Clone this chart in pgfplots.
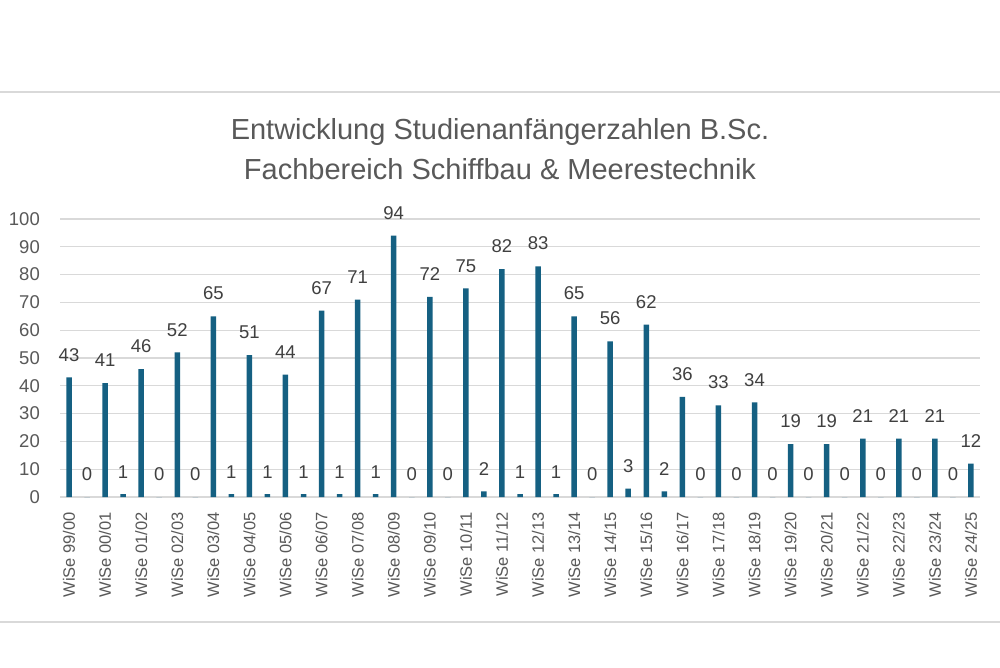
\documentclass[border=0pt]{standalone}
\usepackage{pgfplots}
\pgfplotsset{compat=1.18}
\usepackage{fontspec}
\setmainfont{Liberation Sans}
\definecolor{barblue}{HTML}{156082}
\definecolor{txtgray}{HTML}{595959}
\definecolor{lblgray}{HTML}{404040}
\definecolor{gridgray}{HTML}{D9D9D9}
\begin{document}
\begin{tikzpicture}
\path[use as bounding box, fill=white] (0pt,0pt) rectangle (1000pt,667pt);
\draw[gridgray, line width=1.5pt] (0pt,575pt) -- (1000pt,575pt);
\draw[gridgray, line width=1.5pt] (0pt,45pt) -- (1000pt,45pt);
\node[anchor=base, text=txtgray, font=\fontsize{29}{34}\selectfont, inner sep=0pt] at (500pt,527pt) {Entwicklung Studienanfängerzahlen B.Sc.};
\node[anchor=base, text=txtgray, font=\fontsize{29}{34}\selectfont, inner sep=0pt] at (500pt,487pt) {Fachbereich Schiffbau \& Meerestechnik};
\begin{axis}[
  at={(60pt,170pt)}, anchor=south west,
  scale only axis, width=920pt, height=278pt,
  xmin=-0.5, xmax=50.5, ymin=0, ymax=100,
  ybar, bar width=5.5pt,
  axis line style={draw=none},
  major tick length=0pt,
  ytick={0,10,...,100},
  ymajorgrids, grid style={gridgray, line width=1.2pt},
  xtick={0,2,...,50},
  xticklabels={WiSe 99/00,WiSe 00/01,WiSe 01/02,WiSe 02/03,WiSe 03/04,WiSe 04/05,WiSe 05/06,WiSe 06/07,WiSe 07/08,WiSe 08/09,WiSe 09/10,WiSe 10/11,WiSe 11/12,WiSe 12/13,WiSe 13/14,WiSe 14/15,WiSe 15/16,WiSe 16/17,WiSe 17/18,WiSe 18/19,WiSe 19/20,WiSe 20/21,WiSe 21/22,WiSe 22/23,WiSe 23/24,WiSe 24/25},
  /pgf/number format/assume math mode=true,
  yticklabel style={font=\fontsize{18.5}{22}\selectfont, text=txtgray, anchor=east, inner sep=0pt, xshift=-20pt},
  xticklabel style={font=\fontsize{16.5}{20}\selectfont, text=txtgray, rotate=90, anchor=east, inner sep=0pt},
  xticklabel shift=15pt,
  nodes near coords,
  nodes near coords style={font=\fontsize{18.5}{22}\selectfont, text=lblgray, anchor=south, inner sep=0pt, yshift=16pt},
  clip=false,
]
\addplot[fill=barblue, draw=none] coordinates {
(0,43) (1,0) (2,41) (3,1) (4,46) (5,0) (6,52) (7,0) (8,65) (9,1)
(10,51) (11,1) (12,44) (13,1) (14,67) (15,1) (16,71) (17,1) (18,94) (19,0)
(20,72) (21,0) (22,75) (23,2) (24,82) (25,1) (26,83) (27,1) (28,65) (29,0)
(30,56) (31,3) (32,62) (33,2) (34,36) (35,0) (36,33) (37,0) (38,34) (39,0)
(40,19) (41,0) (42,19) (43,0) (44,21) (45,0) (46,21) (47,0) (48,21) (49,0)
(50,12)
};
\end{axis}
\end{tikzpicture}
\end{document}
